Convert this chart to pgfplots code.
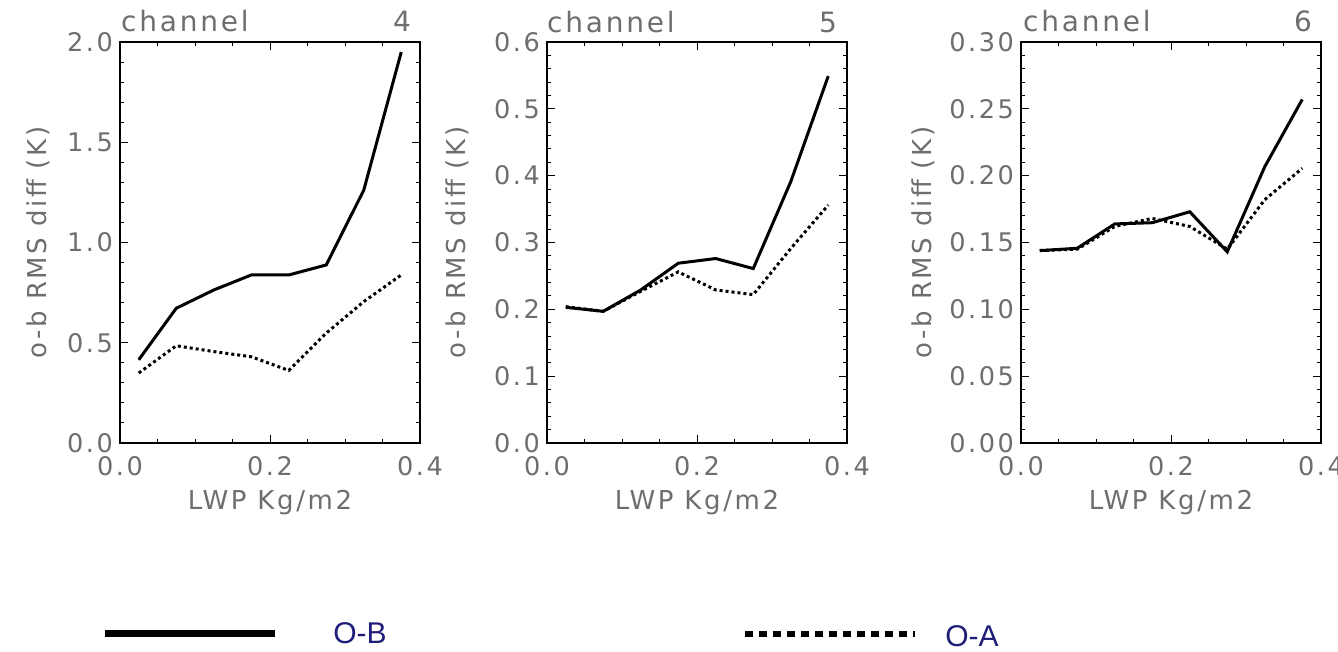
\documentclass[border=0pt]{standalone}
\usepackage{pgfplots}
\pgfplotsset{compat=1.18}
\usepackage{fontspec}
\setmainfont{DejaVu Sans}[LetterSpace=10]
\newfontfamily\legfont{Liberation Sans}
\definecolor{labgray}{RGB}{110,110,110}
\definecolor{legblue}{RGB}{30,30,120}

\tikzset{
  ob/.style={black, line width=1.5pt},
  oa/.style={black, line width=1.5pt, dash pattern=on 1.5pt off 1.5pt},
  ttl/.style={text=labgray, font=\fontsize{14}{16}\selectfont},
}
\pgfplotsset{
  panel/.style={
    scale only axis, width=150pt, height=200.5pt, anchor=south west,
    clip mode=individual,
    xmin=0, xmax=0.4, xtick={0,0.2,0.4}, minor x tick num=3,
    minor y tick num=4,
    tick align=inside, major tick length=4pt, minor tick length=2pt,
    tick style={black, line width=0.5pt},
    axis line style={line width=0.6pt},
    /pgf/number format/assume math mode=true,
    ticklabel style={text=labgray, font=\fontsize{12.8}{14}\selectfont},
    xticklabel style={yshift=-3pt, /pgf/number format/.cd, fixed, fixed zerofill, precision=1},
    label style={text=labgray, font=\fontsize{13}{15}\selectfont},
    xlabel={LWP Kg/m2},
    ylabel={o-b RMS diff (K)},
    xlabel style={at={(axis description cs:0.5,0)}, anchor=center, yshift=-30pt},
  },
}

\begin{document}
\begin{tikzpicture}
\useasboundingbox (0,0) rectangle (669pt,326pt);

% channel 4
\begin{axis}[panel, at={(60pt,104.5pt)},
    ymin=0, ymax=2, ytick={0,0.5,...,2},
    yticklabel style={/pgf/number format/.cd, fixed, fixed zerofill, precision=1},
    ylabel style={at={(axis description cs:0,0.5)}, anchor=center, yshift=41pt}]
\addplot[ob] coordinates {
  (0.025,0.415) (0.075,0.672) (0.125,0.763) (0.175,0.838)
  (0.225,0.838) (0.275,0.888) (0.325,1.261) (0.375,1.95)
};
\addplot[oa] coordinates {
  (0.025,0.349) (0.075,0.485) (0.125,0.456) (0.175,0.430)
  (0.225,0.362) (0.275,0.548) (0.325,0.705) (0.375,0.838)
};
\node[ttl, anchor=base west] at (rel axis cs:0,1) [xshift=-3pt, yshift=5pt] {channel};
\node[ttl, anchor=base east] at (rel axis cs:1,1) [xshift=-1pt, yshift=5pt] {4};
\end{axis}

% channel 5
\begin{axis}[panel, at={(273.5pt,104.5pt)},
    ymin=0, ymax=0.6, ytick={0,0.1,...,0.6},
    yticklabel style={/pgf/number format/.cd, fixed, fixed zerofill, precision=1},
    ylabel style={at={(axis description cs:0,0.5)}, anchor=center, yshift=45pt}]
\addplot[ob] coordinates {
  (0.025,0.203) (0.075,0.197) (0.125,0.229) (0.175,0.269)
  (0.225,0.276) (0.275,0.261) (0.325,0.391) (0.375,0.549)
};
\addplot[oa] coordinates {
  (0.025,0.204) (0.075,0.197) (0.125,0.227) (0.175,0.256)
  (0.225,0.229) (0.275,0.222) (0.325,0.291) (0.375,0.356)
};
\node[ttl, anchor=base west] at (rel axis cs:0,1) [xshift=-3.5pt, yshift=5pt] {channel};
\node[ttl, anchor=base east] at (rel axis cs:1,1) [xshift=-1.5pt, yshift=5pt] {5};
\end{axis}

% channel 6
\begin{axis}[panel, at={(510.5pt,104.5pt)},
    ymin=0, ymax=0.3, ytick={0,0.05,...,0.3},
    yticklabel style={/pgf/number format/.cd, fixed, fixed zerofill, precision=2},
    ylabel style={at={(axis description cs:0,0.5)}, anchor=center, yshift=49pt}]
\addplot[ob] coordinates {
  (0.025,0.1439) (0.075,0.1457) (0.125,0.1639) (0.175,0.1648)
  (0.225,0.1730) (0.275,0.1430) (0.325,0.2067) (0.375,0.2570)
};
\addplot[oa] coordinates {
  (0.025,0.1440) (0.075,0.1450) (0.125,0.1620) (0.175,0.1680)
  (0.225,0.1620) (0.275,0.1450) (0.325,0.1820) (0.375,0.2055)
};
\node[ttl, anchor=base west] at (rel axis cs:0,1) [xshift=-2.5pt, yshift=5pt] {channel};
\node[ttl, anchor=base east] at (rel axis cs:1,1) [xshift=-1pt, yshift=5pt] {6};
\end{axis}

% legend
\draw[black, line width=3.5pt] (52.5pt,9pt) -- (137.5pt,9pt);
\node[text=legblue, font=\legfont\fontsize{15}{17}\selectfont] at (180pt,9.5pt) {O-B};
\draw[black, line width=3pt, dash pattern=on 4pt off 3pt] (372.5pt,9pt) -- (457.5pt,9pt);
\node[text=legblue, font=\legfont\fontsize{15}{17}\selectfont] at (486pt,8pt) {O-A};
\end{tikzpicture}
\end{document}
